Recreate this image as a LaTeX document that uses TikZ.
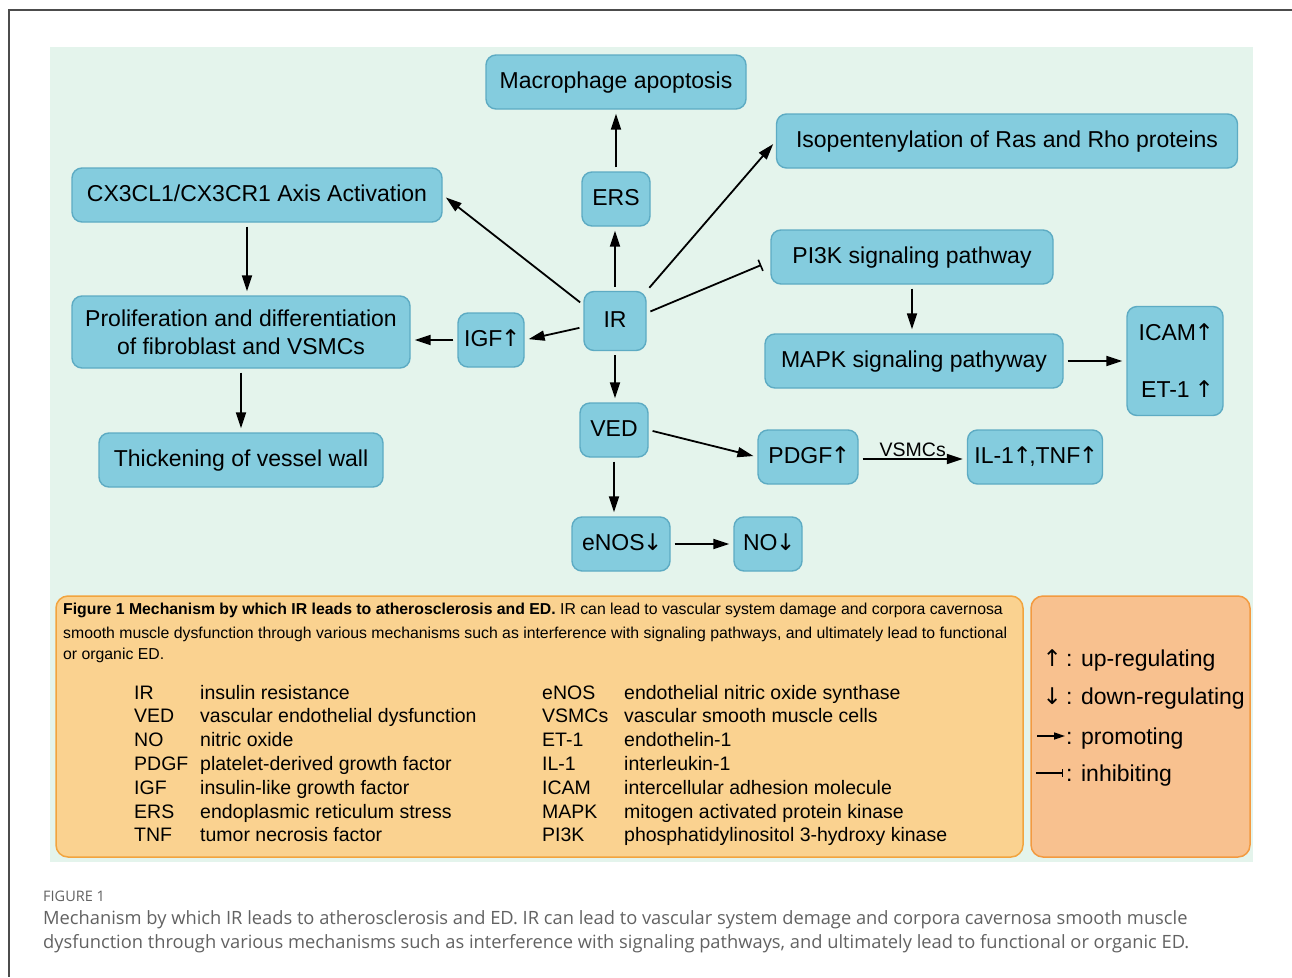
\documentclass[tikz,border=0pt]{standalone}
\usepackage{fontspec}
\setmainfont{Liberation Sans}
\newfontfamily\narrowfont{Liberation Sans}
\newfontfamily\capfont{Open Sans}
\newfontfamily\arrowfont{DejaVu Sans}
\newcommand\upar{\kern-1.5pt{\arrowfont ↑}\kern-2.5pt}
\newcommand\downar{\kern-1.5pt{\arrowfont ↓}\kern-2.5pt}
\usetikzlibrary{arrows.meta,calc,positioning}

\definecolor{panelgreen}{HTML}{E4F4EC}
\definecolor{boxfill}{HTML}{84CCDE}
\definecolor{boxline}{HTML}{5DABC3}
\definecolor{notefill}{HTML}{FAD290}
\definecolor{noteline}{HTML}{F2A43E}
\definecolor{keyfill}{HTML}{F8C18F}
\definecolor{keyline}{HTML}{F39A40}
\definecolor{capgrey}{HTML}{626262}

\tikzset{
  mech/.style={draw=boxline, fill=boxfill, line width=1.4pt, rounded corners=10pt,
    minimum height=54pt, inner sep=0pt, text height=17pt, text depth=4pt,
    font=\fontsize{23}{28}\selectfont},
  promote/.style={-{Triangle[length=16pt,width=10pt]}, line width=1.8pt,
    shorten <=4pt, shorten >=4pt},
  inhibit/.style={-{Bar[width=12pt,line width=1.6pt]}, line width=1.8pt},
  abbrev/.style={anchor=base west, inner sep=0pt, font=\fontsize{19.5}{22}\selectfont},
  keytext/.style={anchor=base west, inner sep=0pt, font=\fontsize{23}{26}\selectfont},
  notetext/.style={anchor=base west, inner sep=0pt, font=\narrowfont\fontsize{15.8}{18}\selectfont},
  captext/.style={anchor=base west, inner sep=0pt, text=capgrey, font=\capfont\fontsize{18.3}{21}\selectfont},
}

\begin{document}
\begin{tikzpicture}[x=1pt,y=-1pt]
\useasboundingbox (0,0) rectangle (1292,977);
\fill[white] (0,0) rectangle (1292,977);
\draw[gray!60!black, line width=1.2pt] (1292,10) -- (9,10) -- (9,977);
\fill[panelgreen] (50,47) rectangle (1253,862);

% mechanism boxes
\node[mech, minimum width=260pt] (macro) at (616,82) {Macrophage apoptosis};
\node[mech, minimum width=68pt] (ers) at (616,199) {ERS};
\node[mech, minimum width=62pt, minimum height=59pt] (ir) at (615,321) {IR};
\node[mech, minimum width=461pt] (isop) at (1007,141) {Isopentenylation of Ras and Rho proteins};
\node[mech, minimum width=370pt] (cx3) at (257,195) {CX3CL1/CX3CR1 Axis Activation};
\node[mech, minimum width=282pt] (pi3k) at (912,257) {PI3K signaling pathway};
\node[mech, minimum width=338pt, minimum height=72pt, align=center, text height=, text depth=] (prolif) at (241,332)
  {Proliferation and differentiation\\of fibroblast and VSMCs};
\node[mech, minimum width=66pt] (igf) at (491,340) {IGF\upar};
\node[mech, minimum width=298pt] (mapk) at (914,361) {MAPK signaling pathyway};
\node[mech, minimum width=96pt, minimum height=109pt, align=right, text height=, text depth=] (icam) at (1175,361)
  {ICAM\upar\\[29pt]ET-1 \upar};
\node[mech, minimum width=68pt] (ved) at (614,430) {VED};
\node[mech, minimum width=284pt] (thick) at (241,460) {Thickening of vessel wall};
\node[mech, minimum width=100pt] (pdgf) at (808,457) {PDGF\upar};
\node[mech, minimum width=135pt] (il) at (1035,457) {IL-1\upar,TNF\upar};
\node[mech, minimum width=98pt] (enos) at (621,544) {eNOS\downar};
\node[mech, minimum width=68pt] (no) at (768,544) {NO\downar};

% connectors
\draw[promote] (ers) -- (macro);
\draw[promote] (ir.north) -- (ir.north |- ers.south);
\draw[promote] (ir.north east) -- (isop.west);
\draw[promote] (ir.153) -- (cx3.east);
\draw[inhibit, shorten <=4pt] ([yshift=8pt]ir.east) -- ($(pi3k.west)+(-9,8)$);
\draw[promote] ([yshift=-6pt]ir.west) -- (igf.east);
\draw[promote] (igf.west) -- (igf.west -| prolif.east);
\draw[promote] ([xshift=-10pt]cx3.south) -- ([xshift=-10pt]cx3.south |- prolif.north);
\draw[promote] (prolif) -- (thick);
\draw[promote] (ir.south) -- (ir.south |- ved.north);
\draw[promote] (pi3k.south) -- (pi3k.south |- mapk.north);
\draw[promote] (mapk) -- (icam);
\draw[promote] (ved.east) -- (pdgf.west);
\draw[promote] ([yshift=-2pt]pdgf.east) --
  node[above=1pt, inner sep=0pt, font=\fontsize{19.5}{22}\selectfont] (vsmc) {VSMCs}
  ([yshift=-2pt]pdgf.east -| il.west);
\draw[promote] (ved.south) -- (ved.south |- enos.north);
\draw[promote] (enos) -- (no);

% note and key panels
\node[draw=noteline, fill=notefill, line width=1.5pt, rounded corners=12pt,
  minimum width=967pt, minimum height=261pt, inner sep=0pt] (note) at (539.5,726.5) {};
\node[draw=keyline, fill=keyfill, line width=1.5pt, rounded corners=12pt,
  minimum width=219pt, minimum height=261pt, inner sep=0pt] (key) at (1140.5,726.5) {};

\node[notetext] (note1) at (63,614) {\textbf{Figure 1 Mechanism by which IR leads to atherosclerosis and ED.} IR can lead to vascular system damage and corpora cavernosa};
\node[notetext] (note2) at (63,638) {smooth muscle dysfunction through various mechanisms such as interference with signaling pathways, and ultimately lead to functional};
\node[notetext] (note3) at (63,659) {or organic ED.};

\foreach \ab/\full [count=\i] in {IR/insulin resistance, VED/vascular endothelial dysfunction,
    NO/nitric oxide, PDGF/platelet-derived growth factor, IGF/insulin-like growth factor,
    ERS/endoplasmic reticulum stress, TNF/tumor necrosis factor} {
  \node[abbrev] (abl-\i) at (134,675.2+23.8*\i) {\ab};
  \node[abbrev] (defl-\i) at (200,675.2+23.8*\i) {\full};
}
\foreach \ab/\full [count=\i] in {eNOS/endothelial nitric oxide synthase, VSMCs/vascular smooth muscle cells,
    ET-1/endothelin-1, IL-1/interleukin-1, ICAM/intercellular adhesion molecule,
    MAPK/mitogen activated protein kinase, PI3K/phosphatidylinositol 3-hydroxy kinase} {
  \node[abbrev] (abr-\i) at (542,675.2+23.8*\i) {\ab};
  \node[abbrev] (defr-\i) at (624,675.2+23.8*\i) {\full};
}

% key
\node[keytext] (keyup) at (1044,666) {\upar};
\node[keytext] (keyuptx) at (1066,666) {: up-regulating};
\node[keytext] (keydown) at (1044,704) {\downar};
\node[keytext] (keydowntx) at (1066,704) {: down-regulating};
\coordinate (pro-a) at (1037,736);
\coordinate (pro-b) at (1065,736);
\draw[-{Triangle[length=11pt,width=7pt]}, line width=1.6pt] (pro-a) -- (pro-b);
\node[keytext] (keyprotx) at (1066,744) {: promoting};
\coordinate (inh-a) at (1036,773);
\coordinate (inh-b) at (1063,773);
\draw[-{Bar[width=8pt,line width=1.3pt]}, line width=1.3pt] (inh-a) -- (inh-b);
\node[keytext] (keyinhtx) at (1066,781) {: inhibiting};

% figure caption
\node[captext, font=\capfont\fontsize{14.5}{16}\selectfont] (figlab) at (43,901) {FIGURE 1};
\node[captext] (cap1) at (43,924) {Mechanism by which IR leads to atherosclerosis and ED. IR can lead to vascular system demage and corpora cavernosa smooth muscle};
\node[captext] (cap2) at (43,948) {dysfunction through various mechanisms such as interference with signaling pathways, and ultimately lead to functional or organic ED.};
\end{tikzpicture}
\end{document}
